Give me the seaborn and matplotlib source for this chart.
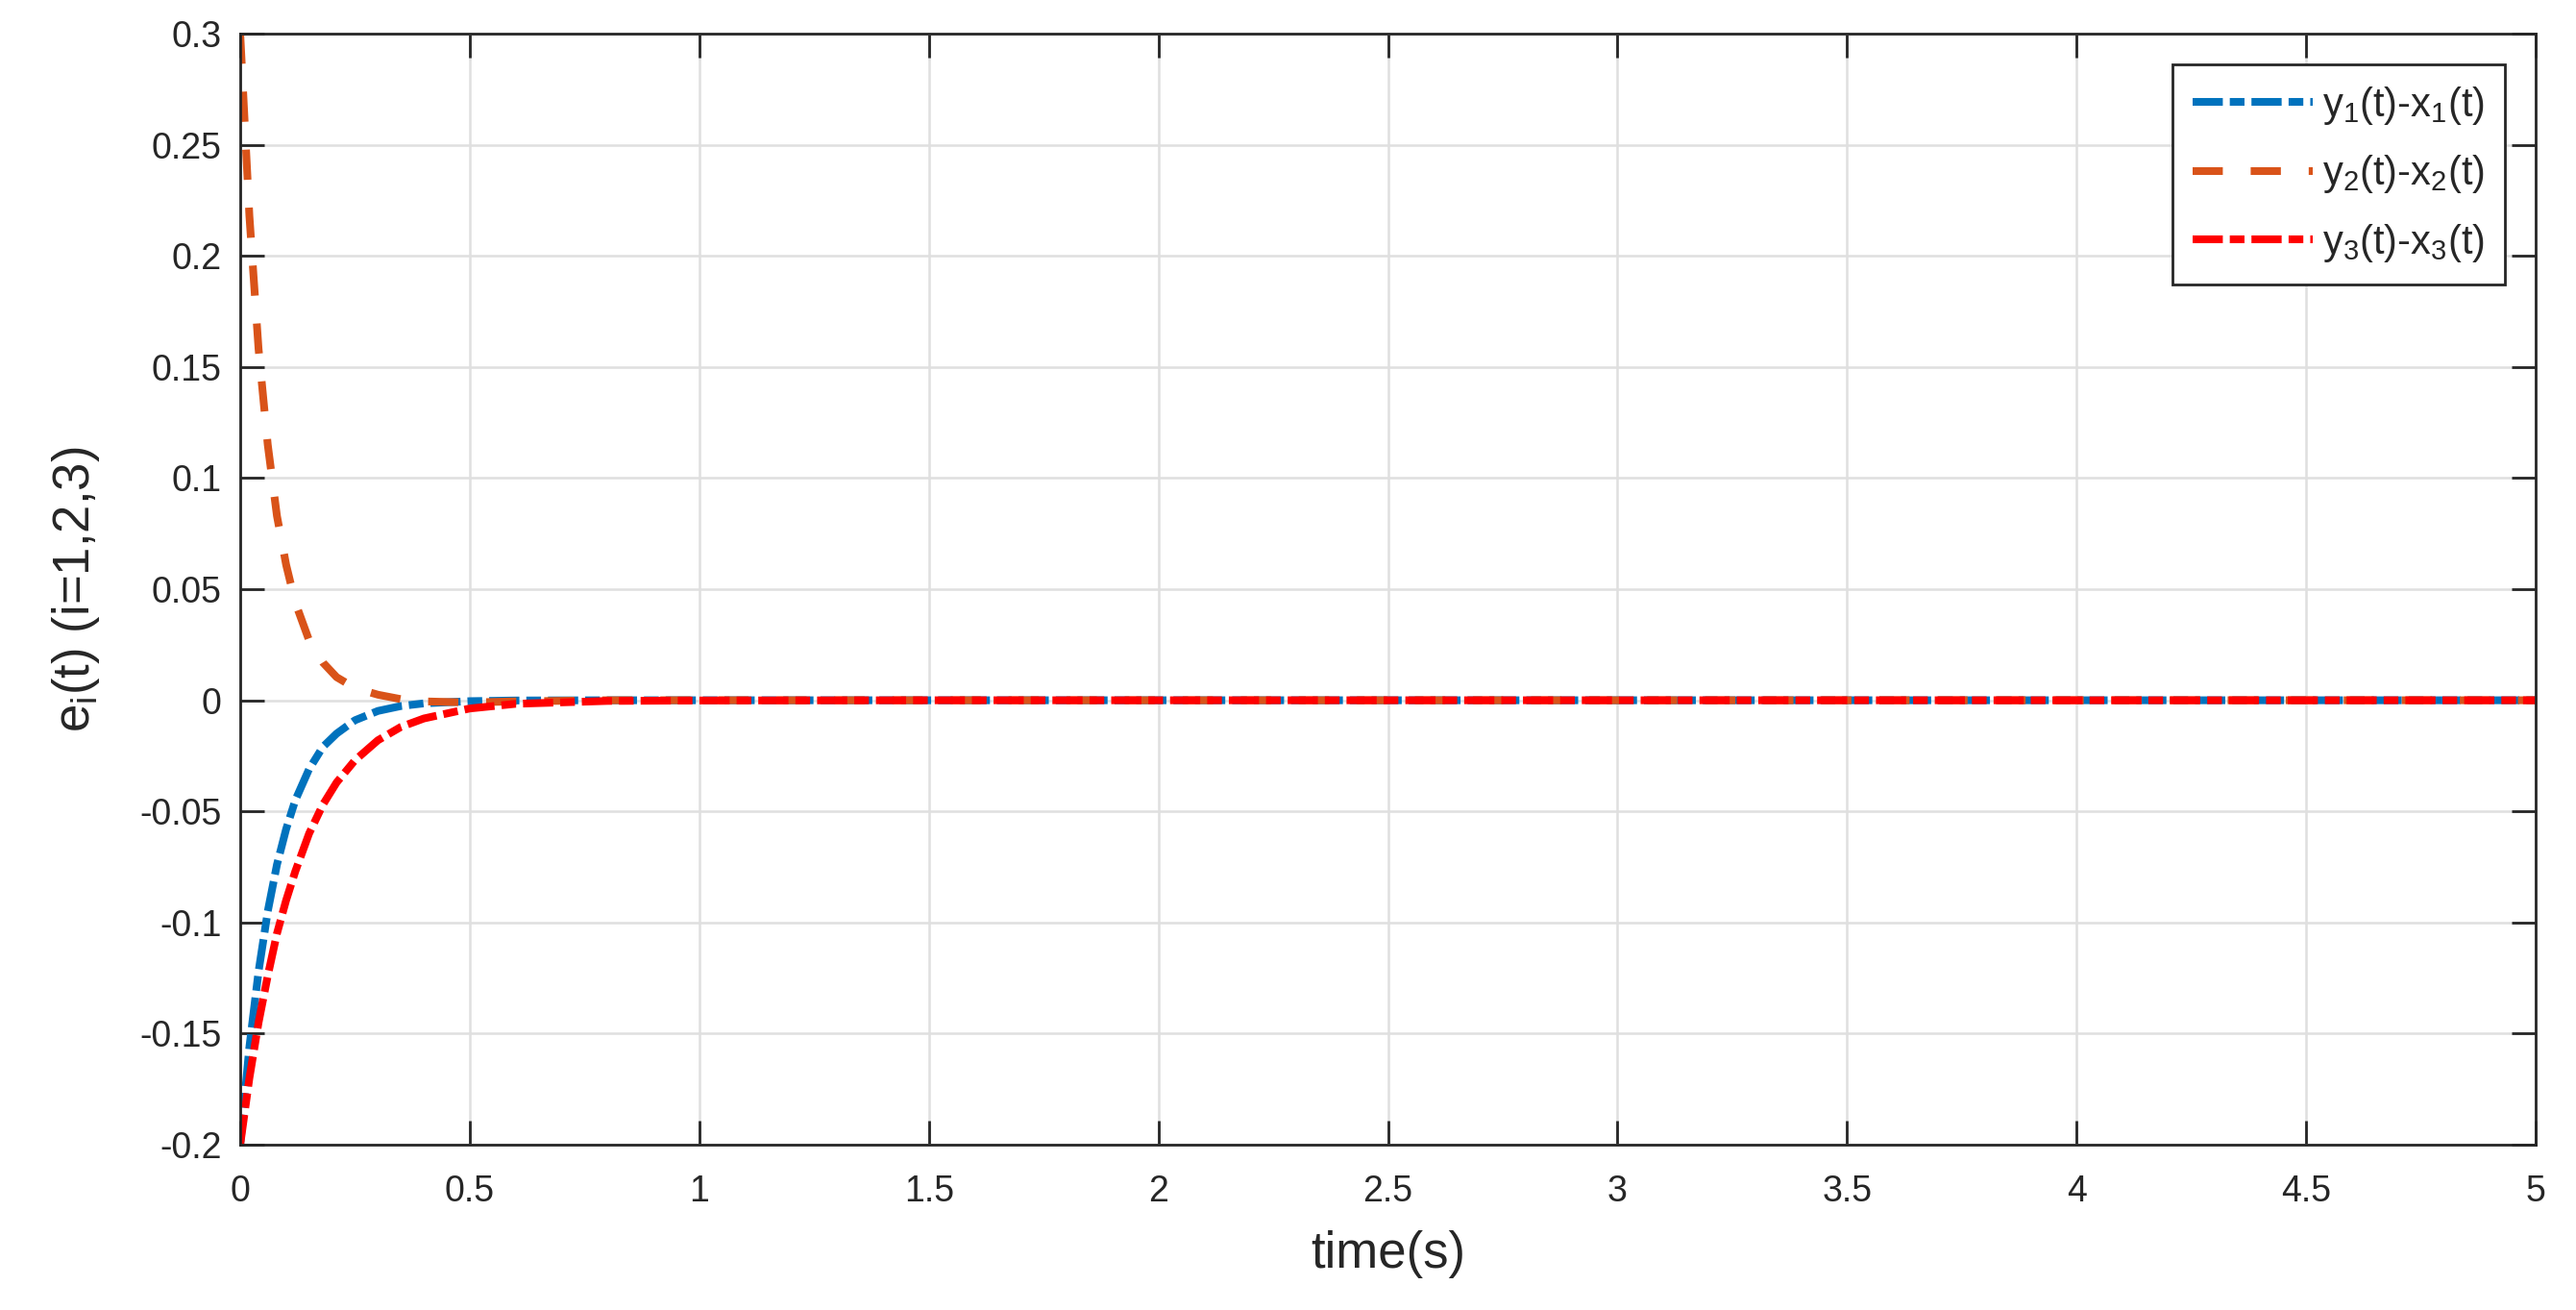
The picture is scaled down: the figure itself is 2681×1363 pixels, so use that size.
import numpy as np
import pandas as pd
import matplotlib
matplotlib.use("Agg")
import matplotlib.pyplot as plt
from matplotlib.ticker import FuncFormatter
import seaborn as sns

# error signals (time in s)
t = [0, 0.02, 0.04, 0.06, 0.08, 0.10, 0.12, 0.15, 0.18, 0.21, 0.25, 0.30,
     0.35, 0.40, 0.50, 0.60, 0.80, 1.0, 1.5, 2.0, 3.0, 4.0, 5.0]
e1 = [-0.200, -0.156, -0.122, -0.095, -0.074, -0.058, -0.045, -0.031, -0.021,
      -0.015, -0.009, -0.0048, -0.0026, -0.0014, -0.0004, -0.0001, 0, 0, 0, 0, 0, 0, 0]
e2 = [0.300, 0.218, 0.158, 0.115, 0.083, 0.061, 0.044, 0.027, 0.017, 0.0104,
      0.0055, 0.0025, 0.0005, -0.0005, -0.001, -0.0005, 0, 0, 0, 0, 0, 0, 0]
e3 = [-0.200, -0.170, -0.145, -0.124, -0.105, -0.090, -0.077, -0.060, -0.047,
      -0.037, -0.027, -0.018, -0.012, -0.0082, -0.0037, -0.0016, -0.0003, -0.0001,
      0, 0, 0, 0, 0]

labels = [r"y$_1$(t)-x$_1$(t)", r"y$_2$(t)-x$_2$(t)", r"y$_3$(t)-x$_3$(t)"]
xticks = [0, 0.5, 1, 1.5, 2, 2.5, 3, 3.5, 4, 4.5, 5]
yticks = [-0.2, -0.15, -0.1, -0.05, 0, 0.05, 0.1, 0.15, 0.2, 0.25, 0.3]

# matlab-ish colours
blue = "#0072BD"
orange = "#D95319"
red = "#FF0000"
dark = "#262626"

sns.set_theme(style="whitegrid")
plt.rcParams["font.family"] = ["Liberation Sans", "DejaVu Sans"]
plt.rcParams["mathtext.default"] = "regular"
plt.rcParams["axes.unicode_minus"] = False

fig = plt.figure(figsize=(26.81, 13.63), dpi=100)
ax = fig.add_axes([250 / 2681, 1 - 1191 / 1363, (2639 - 250) / 2681, (1191 - 35) / 1363])

lw = 5.8
dashdot = (0, (3.9, 0.9, 1.9, 0.9))
dashed = (0, (3.9, 3.6))

sns.lineplot(x=t, y=e1, ax=ax, color=blue, lw=lw, linestyle=dashdot, label=labels[0])
sns.lineplot(x=t, y=e2, ax=ax, color=orange, lw=lw, linestyle=dashed, label=labels[1])
sns.lineplot(x=t, y=e3, ax=ax, color=red, lw=lw, linestyle=dashdot, label=labels[2])

ax.set_xlim(0, 5)
ax.set_ylim(-0.2, 0.3)
ax.set_xticks(xticks)
ax.set_yticks(yticks)
fmt = FuncFormatter(lambda v, p: "%g" % round(v, 4))
ax.xaxis.set_major_formatter(fmt)
ax.yaxis.set_major_formatter(fmt)

ax.grid(True, color="#DFDFDF", lw=1.8)
ax.set_axisbelow(True)
for s in ax.spines.values():
    s.set_visible(True)
    s.set_color(dark)
    s.set_linewidth(2.0)

ax.tick_params(axis="both", which="both", direction="in", length=18, width=2.0,
               color=dark, labelcolor=dark, labelsize=27,
               top=True, right=True, bottom=True, left=True)
ax.tick_params(axis="y", pad=14)
ax.tick_params(axis="x", pad=22)

ax.set_xlabel("time(s)", fontsize=38, color=dark, labelpad=16)
ax.set_ylabel(r"e$_i$(t) (i=1,2,3)", fontsize=38, color=dark, labelpad=28)

leg = ax.legend(loc="upper right", fontsize=30, frameon=True, fancybox=False,
                borderaxespad=0.77, borderpad=0.5, labelspacing=0.66,
                handlelength=3.0, handletextpad=0.25)
leg.get_frame().set_edgecolor(dark)
leg.get_frame().set_linewidth(2.0)
leg.get_frame().set_alpha(1)
for txt in leg.get_texts():
    txt.set_color(dark)

fig.savefig("out.png", dpi=100, facecolor="white")
